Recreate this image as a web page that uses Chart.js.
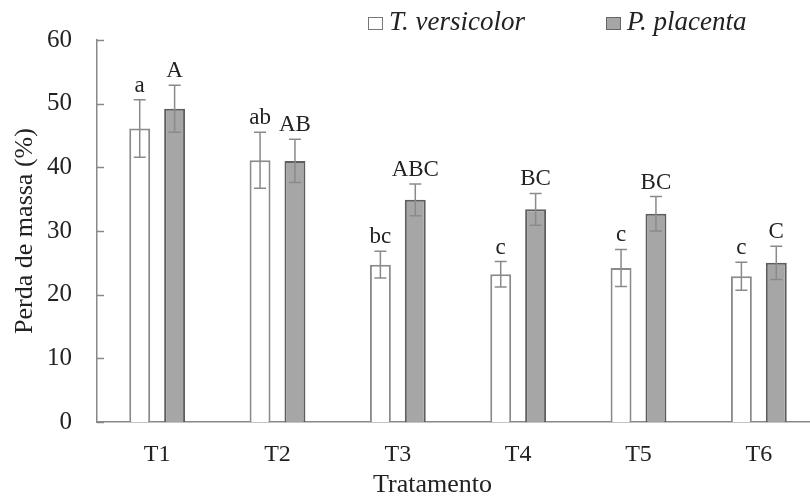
<!DOCTYPE html>
<html>
<head>
<meta charset="utf-8">
<script src="https://cdn.jsdelivr.net/npm/chart.js@4.4.1/dist/chart.umd.min.js"></script>
<style>
  html, body { margin: 0; padding: 0; background: #fff; overflow: hidden; }
  #wrap { position: relative; width: 810px; height: 497px; overflow: hidden; }
  #holder { position: absolute; left: 0; top: 0; width: 822px; height: 497px; }
  .legend { position: absolute; top: 6px; font-family: "Liberation Serif", serif; font-style: italic; font-size: 27px; color: #222; display: flex; align-items: center; }
  .legend .box { display: inline-block; width: 13px; height: 11px; border: 1.5px solid #777; margin-right: 6px; margin-top: 3px; }
  #xtitle { position: absolute; top: 469px; left: 373px; font-family: "Liberation Serif", serif; font-size: 26px; color: #222; }
</style>
</head>
<body>
<div id="wrap">
  <div id="holder"><canvas id="chart" width="822" height="497"></canvas></div>
  <div class="legend" style="left:368px"><span class="box" style="background:#fff"></span>T. versicolor</div>
  <div class="legend" style="left:606px"><span class="box" style="background:#a6a6a6;border-color:#666"></span>P. placenta</div>
  <div id="xtitle">Tratamento</div>
</div>
<script>
const categories = ["T1", "T2", "T3", "T4", "T5", "T6"];
const versicolor = [46.1, 41.1, 24.7, 23.2, 24.2, 22.9];
const versicolorErr = [4.5, 4.4, 2.1, 2.0, 2.9, 2.2];
const versicolorLetters = ["a", "ab", "bc", "c", "c", "c"];
const placenta = [49.2, 41.0, 34.9, 33.4, 32.7, 25.0];
const placentaErr = [3.7, 3.4, 2.5, 2.5, 2.7, 2.6];
const placentaLetters = ["A", "AB", "ABC", "BC", "BC", "C"];
const yTicks = [0, 10, 20, 30, 40, 50, 60];

const errors = [versicolorErr, placentaErr];
const letters = [versicolorLetters, placentaLetters];

// error bars + significance letters over each bar
const barExtras = {
  id: "barExtras",
  afterDatasetsDraw(chart) {
    const ctx = chart.ctx;
    const y = chart.scales.y;
    chart.data.datasets.forEach((ds, di) => {
      const meta = chart.getDatasetMeta(di);
      meta.data.forEach((bar, i) => {
        const v = ds.data[i];
        const e = errors[di][i];
        const top = y.getPixelForValue(v + e);
        const bottom = y.getPixelForValue(v - e);
        ctx.save();
        ctx.strokeStyle = "#8a8a8a";
        ctx.lineWidth = 1.5;
        ctx.beginPath();
        ctx.moveTo(bar.x, top);
        ctx.lineTo(bar.x, bottom);
        ctx.moveTo(bar.x - 6, top);
        ctx.lineTo(bar.x + 6, top);
        ctx.moveTo(bar.x - 6, bottom);
        ctx.lineTo(bar.x + 6, bottom);
        ctx.stroke();
        ctx.fillStyle = "#222";
        ctx.font = "23px 'Liberation Serif', serif";
        ctx.textAlign = "center";
        ctx.textBaseline = "alphabetic";
        ctx.fillText(letters[di][i], bar.x, top - 8);
        ctx.restore();
      });
    });
  }
};

// small inward tick marks on the y axis
const innerTicks = {
  id: "innerTicks",
  afterDraw(chart) {
    const ctx = chart.ctx;
    const y = chart.scales.y;
    const left = chart.chartArea.left;
    ctx.save();
    ctx.strokeStyle = "#888";
    ctx.lineWidth = 1.5;
    y.ticks.forEach((t) => {
      const py = Math.round(y.getPixelForValue(t.value)) + 0.5;
      ctx.beginPath();
      ctx.moveTo(left, py);
      ctx.lineTo(left + 7, py);
      ctx.stroke();
    });
    ctx.restore();
  }
};

new Chart(document.getElementById("chart"), {
  type: "bar",
  data: {
    labels: categories,
    datasets: [
      {
        label: "T. versicolor",
        data: versicolor,
        backgroundColor: "#ffffff",
        borderColor: "#8a8a8a",
        borderWidth: 2,
        categoryPercentage: 0.58,
        barPercentage: 0.6
      },
      {
        label: "P. placenta",
        data: placenta,
        backgroundColor: "#a6a6a6",
        borderColor: "#5e5e5e",
        borderWidth: 2,
        categoryPercentage: 0.58,
        barPercentage: 0.6
      }
    ]
  },
  options: {
    responsive: false,
    animation: false,
    devicePixelRatio: 1,
    layout: { padding: { top: 40, right: 3, left: 0, bottom: 0 } },
    plugins: {
      legend: { display: false },
      tooltip: { enabled: false }
    },
    scales: {
      x: {
        grid: { display: false, drawTicks: false },
        border: { color: "#888", width: 1.5 },
        ticks: {
          padding: 18,
          color: "#222",
          font: { family: "'Liberation Serif', serif", size: 24 }
        },
        afterFit(scale) { scale.height = 75; }
      },
      y: {
        min: 0,
        max: 60,
        afterBuildTicks(scale) { scale.ticks = yTicks.map((v) => ({ value: v })); },
        grid: { display: false, drawTicks: false },
        border: { color: "#888", width: 1.5 },
        ticks: {
          padding: 25,
          color: "#222",
          font: { family: "'Liberation Serif', serif", size: 25 }
        },
        title: {
          display: true,
          text: "Perda de massa (%)",
          color: "#222",
          padding: { top: 10, bottom: 0 },
          font: { family: "'Liberation Serif', serif", size: 26 }
        },
        afterFit(scale) { scale.width = 97; }
      }
    }
  },
  plugins: [barExtras, innerTicks]
});
</script>
</body>
</html>
